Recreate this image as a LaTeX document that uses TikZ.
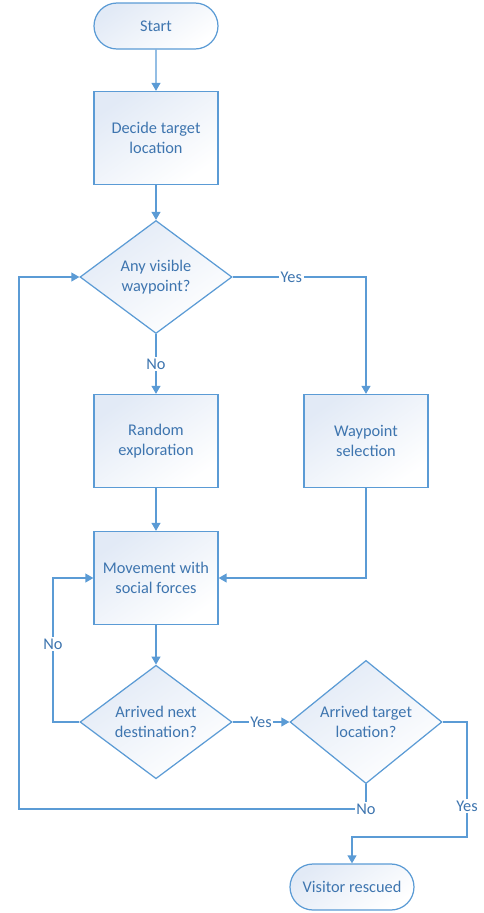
\documentclass[tikz,border=0pt]{standalone}
\usepackage{fontspec}
\setmainfont{Carlito}
\usepackage{tikz}
\usetikzlibrary{arrows.meta, positioning, shapes}
\definecolor{flowblue}{RGB}{91, 155, 213}
\definecolor{flowtext}{RGB}{62, 117, 175}
\definecolor{flowfill}{RGB}{226, 234, 246}

\tikzset{
  box/.style={draw=flowblue, line width=0.7pt, text=flowtext, align=center,
    top color=flowfill, bottom color=white, shading angle=35,
    font=\fontsize{9.3}{11.3}\selectfont, inner sep=0pt},
  terminal/.style={box, rounded rectangle, minimum width=2.48cm, minimum height=0.92cm},
  process/.style={box, rectangle, minimum width=2.48cm, minimum height=1.86cm},
  decision/.style={box, diamond, minimum width=3.04cm, minimum height=2.26cm},
  line/.style={draw=flowblue, line width=0.7pt, -{Triangle[length=4.5pt, width=5pt]}},
  lbl/.style={fill=white, text=flowtext, inner sep=1pt, font=\fontsize{9.3}{11.3}\selectfont}
}

\begin{document}
\begin{tikzpicture}
\useasboundingbox (0,0) rectangle (9.68,-18.26);

% Nodes
\node[terminal] (start) at (3.12,-0.52) {Start};
\node[process] (decide) at (3.12,-2.76) {Decide target\\location};
\node[decision] (visible) at (3.12,-5.54) {Any visible\\waypoint?};
\node[process] (random) at (3.12,-8.82) {Random\\exploration};
\node[process] (select) at (7.32,-8.82) {Waypoint\\selection};
\node[process] (move) at (3.12,-11.56) {Movement with\\social forces};
\node[decision] (next) at (3.12,-14.44) {Arrived next\\destination?};
\node[decision] (target) at (7.32,-14.44) {Arrived target\\location?};
\node[terminal] (rescued) at (7.04,-17.74) {Visitor rescued};

% Bend points
\coordinate (noleft) at (1.06,-14.44);
\coordinate (backleft) at (0.38,-16.18);
\coordinate (yesright) at (9.34,-16.74);

% Connectors
\draw[line] (start) -- (decide);
\draw[line] (decide) -- (visible);
\draw[line] (visible.east) -| node[lbl, pos=0.22] {Yes} (select.north);
\draw[line] (visible.south) -- node[lbl] {No} (random.north);
\draw[line] (random) -- (move);
\draw[line] (select.south) |- (move.east);
\draw[line] (move) -- (next);
\draw[line] (next.west) -- (noleft) |- node[lbl, pos=0.27] {No} (move.west);
\draw[line] (next.east) -- node[lbl] {Yes} (target.west);
\draw[line] (target.south) |- node[lbl] {No} (backleft) |- (visible.west);
\draw[line] (target.east) -| node[lbl, pos=0.865] {Yes} (yesright) -| (rescued.north);
\end{tikzpicture}
\end{document}
